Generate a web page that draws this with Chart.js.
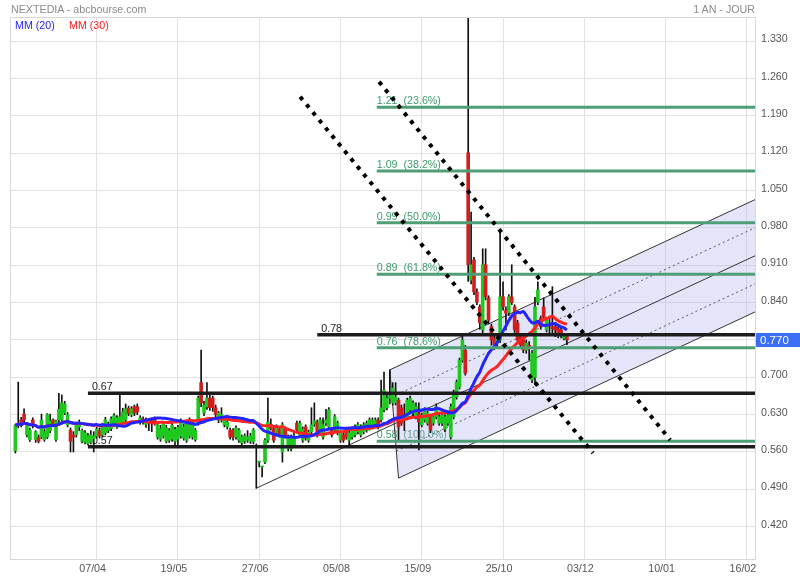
<!DOCTYPE html>
<html><head><meta charset="utf-8">
<script src="https://cdn.jsdelivr.net/npm/chart.js@4/dist/chart.umd.min.js"></script>
<style>
html,body{margin:0;padding:0;background:#fff;}
#wrap{position:relative;width:800px;height:580px;}
canvas{position:absolute;left:0;top:0;}
.t{position:absolute;font-family:"Liberation Sans",Arial,sans-serif;white-space:nowrap;line-height:12px;}
</style></head><body>
<div id="wrap">
<canvas id="c" width="800" height="580"></canvas>
<div class="t" style="left:11px;top:3px;font-size:10.7px;color:#8a8a8a">NEXTEDIA - abcbourse.com</div>
<div class="t" style="right:45px;top:3px;font-size:10.7px;color:#8a8a8a">1 AN - JOUR</div>
<div class="t" style="left:15px;top:19px;font-size:10.7px;color:#1f1fff">MM (20)</div>
<div class="t" style="left:69px;top:19px;font-size:10.7px;color:#ff1f1f">MM (30)</div>
</div>
<script>
// ---- data ----
const tickIndex = [28, 56, 84, 112, 140, 168, 196, 224, 252];
const tickLabels = ['07/04','19/05','27/06','05/08','15/09','25/10','03/12','10/01','16/02'];
const priceTicks = [0.420,0.490,0.560,0.630,0.700,0.770,0.840,0.910,0.980,1.050,1.120,1.190,1.260,1.330];

const opens = [0.562,0.610,0.620,0.631,0.592,0.583,0.620,0.583,0.588,0.588,
0.583,0.588,0.600,0.620,0.583,0.620,0.620,0.633,0.611,0.601,
0.592,0.592,0.607,0.580,0.578,0.576,0.578,0.585,0.590,0.600,
0.592,0.596,0.600,0.604,0.612,0.607,0.612,0.615,0.620,0.642,
0.630,0.645,0.645,0.616,0.622,0.612,0.618,0.617,0.622,0.588,
0.584,0.590,0.580,0.582,0.584,0.580,0.584,0.590,0.586,0.582,
0.590,0.588,0.583,0.615,0.690,0.633,0.645,0.661,0.661,0.643,
0.620,0.620,0.611,0.607,0.601,0.601,0.588,0.582,0.577,0.580,
0.582,0.580,0.579,0.572,0.541,0.532,0.541,0.582,0.612,0.603,
0.596,0.603,0.560,0.603,0.566,0.566,0.572,0.614,0.592,0.582,
0.607,0.582,0.598,0.612,0.616,0.596,0.588,0.614,0.607,0.601,
0.601,0.596,0.582,0.592,0.598,0.582,0.588,0.592,0.598,0.592,
0.598,0.601,0.605,0.607,0.611,0.620,0.620,0.639,0.643,0.661,
0.652,0.652,0.657,0.643,0.620,0.626,0.639,0.633,0.626,0.633,
0.611,0.620,0.614,0.626,0.614,0.626,0.614,0.614,0.603,0.614,
0.588,0.626,0.663,0.682,0.732,0.751,1.121,0.882,0.920,0.860,
0.832,0.789,0.911,0.849,0.795,0.773,0.764,0.770,0.851,0.826,
0.821,0.851,0.832,0.802,0.776,0.770,0.751,0.760,0.695,0.700,
0.841,0.811,0.832,0.789,0.800,0.795,0.795,0.791,0.789,0.773,
0.776];
const highs = [0.612,0.691,0.625,0.641,0.615,0.605,0.624,0.600,0.592,0.631,
0.602,0.632,0.631,0.622,0.620,0.670,0.667,0.655,0.634,0.605,
0.598,0.614,0.620,0.603,0.600,0.595,0.600,0.598,0.607,0.605,
0.614,0.625,0.616,0.626,0.632,0.628,0.672,0.642,0.650,0.646,
0.645,0.648,0.650,0.628,0.626,0.624,0.620,0.620,0.626,0.614,
0.610,0.616,0.610,0.604,0.614,0.606,0.610,0.622,0.612,0.616,
0.624,0.620,0.604,0.665,0.751,0.655,0.690,0.672,0.665,0.648,
0.636,0.643,0.624,0.620,0.605,0.604,0.609,0.604,0.592,0.594,
0.600,0.595,0.604,0.575,0.541,0.532,0.585,0.661,0.622,0.607,
0.611,0.607,0.615,0.607,0.592,0.592,0.596,0.618,0.618,0.607,
0.611,0.601,0.643,0.652,0.620,0.624,0.624,0.640,0.643,0.606,
0.630,0.618,0.600,0.596,0.603,0.600,0.605,0.611,0.615,0.611,
0.615,0.618,0.624,0.624,0.624,0.624,0.695,0.710,0.672,0.714,
0.690,0.690,0.661,0.648,0.650,0.661,0.665,0.656,0.652,0.652,
0.633,0.643,0.637,0.630,0.630,0.650,0.630,0.633,0.630,0.633,
0.650,0.676,0.695,0.736,0.779,0.760,1.400,1.010,0.925,0.866,
0.836,0.941,0.941,0.853,0.800,0.780,0.780,0.973,0.879,0.832,
0.855,0.911,0.836,0.807,0.780,0.776,0.770,0.767,0.750,0.850,
0.879,0.815,0.849,0.811,0.815,0.870,0.800,0.796,0.793,0.782,
0.776];
const lows = [0.558,0.605,0.607,0.615,0.588,0.580,0.605,0.578,0.577,0.585,
0.580,0.585,0.596,0.607,0.580,0.615,0.616,0.630,0.607,0.560,
0.560,0.588,0.600,0.577,0.575,0.573,0.575,0.560,0.586,0.586,
0.588,0.592,0.596,0.600,0.608,0.604,0.608,0.612,0.616,0.628,
0.626,0.628,0.630,0.612,0.612,0.606,0.600,0.598,0.610,0.584,
0.580,0.586,0.577,0.578,0.580,0.572,0.570,0.586,0.582,0.578,
0.586,0.584,0.580,0.610,0.645,0.628,0.640,0.638,0.636,0.626,
0.615,0.616,0.607,0.603,0.584,0.582,0.584,0.578,0.573,0.576,
0.578,0.576,0.575,0.492,0.532,0.513,0.538,0.578,0.601,0.578,
0.592,0.588,0.541,0.586,0.562,0.562,0.568,0.597,0.588,0.578,
0.582,0.578,0.594,0.608,0.588,0.592,0.584,0.610,0.603,0.588,
0.597,0.592,0.578,0.578,0.584,0.572,0.584,0.588,0.594,0.588,
0.594,0.597,0.601,0.603,0.607,0.603,0.616,0.635,0.639,0.650,
0.648,0.648,0.579,0.610,0.600,0.622,0.635,0.628,0.622,0.564,
0.607,0.616,0.610,0.596,0.610,0.622,0.610,0.610,0.598,0.610,
0.584,0.622,0.659,0.678,0.728,0.704,0.880,0.875,0.855,0.836,
0.790,0.780,0.845,0.800,0.760,0.752,0.755,0.765,0.826,0.789,
0.816,0.836,0.784,0.765,0.755,0.746,0.745,0.732,0.690,0.689,
0.836,0.790,0.807,0.785,0.780,0.780,0.776,0.774,0.774,0.770,
0.761];
const closes = [0.610,0.614,0.611,0.620,0.611,0.601,0.611,0.598,0.580,0.620,
0.598,0.630,0.618,0.611,0.618,0.640,0.652,0.650,0.630,0.580,
0.588,0.611,0.616,0.600,0.596,0.590,0.592,0.590,0.603,0.590,
0.610,0.620,0.612,0.622,0.628,0.624,0.626,0.635,0.641,0.632,
0.641,0.633,0.635,0.624,0.616,0.620,0.617,0.616,0.614,0.611,
0.604,0.612,0.605,0.600,0.610,0.602,0.606,0.618,0.607,0.612,
0.620,0.616,0.600,0.661,0.652,0.648,0.661,0.643,0.643,0.630,
0.633,0.630,0.620,0.616,0.588,0.588,0.605,0.601,0.588,0.590,
0.588,0.590,0.601,0.568,0.541,0.532,0.582,0.616,0.604,0.582,
0.607,0.592,0.611,0.590,0.588,0.588,0.590,0.601,0.614,0.603,
0.586,0.597,0.611,0.618,0.592,0.620,0.611,0.620,0.639,0.592,
0.626,0.614,0.596,0.582,0.588,0.596,0.601,0.607,0.611,0.607,
0.611,0.614,0.620,0.620,0.620,0.607,0.643,0.676,0.661,0.665,
0.680,0.663,0.607,0.614,0.624,0.657,0.661,0.652,0.645,0.616,
0.629,0.639,0.633,0.601,0.626,0.645,0.626,0.629,0.626,0.629,
0.645,0.671,0.691,0.732,0.770,0.708,0.911,0.911,0.860,0.841,
0.802,0.911,0.851,0.807,0.770,0.761,0.776,0.851,0.832,0.820,
0.851,0.840,0.789,0.770,0.761,0.751,0.764,0.757,0.745,0.832,
0.864,0.795,0.813,0.807,0.796,0.791,0.789,0.780,0.780,0.779,
0.770];

// horizontal support / resistance levels and where they start (bar index)
const levelValues = [0.78, 0.67, 0.57];
const levelStarts = [104, 25, 25];
// Fibonacci retracement
const fibHigh = 1.40, fibLow = 0.58;
const fibRatios = [0.236, 0.382, 0.5, 0.618, 0.786, 1.0];
const fibStart = 124.5;
// Andrews pitchfork anchors (bar index, price)
const pitchA = {x: 83, y: 0.492};
const pitchB = {x: 129, y: 0.714};
const pitchC = {x: 132, y: 0.511};
// dotted trend lines
const trendLine1 = [{x: 98.1, y: 1.226}, {x: 199.0, y: 0.558}];
const trendLine2 = [{x: 125.3, y: 1.254}, {x: 225.6, y: 0.5825}];
const lastPrice = 0.770;

// ---- build ----
const XMIN = -1.5, XMAX = 254.8;
function sma(arr, n){
  return arr.map((_, i) => { const s = Math.max(0, i - n + 1); let t = 0; for (let k = s; k <= i; k++) t += arr[k]; return t / (i - s + 1); });
}
const ma20 = sma(closes, 20).map((v, i) => ({x: i, y: v}));
const ma30 = sma(closes, 30).map((v, i) => ({x: i, y: v}));
const wickData = highs.map((h, i) => ({x: i, y: [lows[i], h]}));
const bodyData = opens.map((o, i) => ({x: i, y: [Math.min(o, closes[i]), Math.max(o, closes[i])]}));
const bodyColors = opens.map((o, i) => closes[i] >= o ? '#1ec81e' : '#d21e1e');

const M = {x: (pitchB.x + pitchC.x) / 2, y: (pitchB.y + pitchC.y) / 2};
const slope = (M.y - pitchA.y) / (M.x - pitchA.x);
const ext = p => ({x: XMAX, y: p.y + slope * (XMAX - p.x)});
const q1 = {x: pitchB.x + (pitchC.x - pitchB.x) * 0.25, y: pitchB.y + (pitchC.y - pitchB.y) * 0.25};
const q3 = {x: pitchB.x + (pitchC.x - pitchB.x) * 0.75, y: pitchB.y + (pitchC.y - pitchB.y) * 0.75};

const ds = [];
const line = (data, color, width, order, extra) => Object.assign({type: 'line', data, borderColor: color, borderWidth: width, pointRadius: 0, fill: false, tension: 0, order}, extra || {});

ds.push(line(trendLine1, '#000', 4, 0, {borderDash: [4, 6]}));
ds.push(line(trendLine2, '#000', 4, 0, {borderDash: [4, 6]}));
fibRatios.forEach(r => { const v = fibHigh - r * (fibHigh - fibLow); ds.push(line([{x: fibStart, y: v}, {x: XMAX, y: v}], '#4e9e76', 3, 1)); });
levelValues.forEach((v, i) => ds.push(line([{x: levelStarts[i], y: v}, {x: XMAX, y: v}], '#1c1c1c', 3.5, 2)));
ds.push(line(ma20, '#2424ff', 3, 3, {tension: 0.3}));
ds.push(line(ma30, '#ff2424', 3, 3.5, {tension: 0.3}));
ds.push({type: 'bar', data: bodyData, backgroundColor: bodyColors, borderWidth: 0, barThickness: 3, minBarLength: 1, grouped: false, order: 4});
ds.push({type: 'bar', data: wickData, backgroundColor: '#111', borderWidth: 0, barThickness: 1, minBarLength: 1, grouped: false, order: 5});
ds.push(line([pitchA, ext(pitchA)], '#333', 1, 6));
ds.push(line([pitchB, ext(pitchB)], '#333', 1, 6));
ds.push(line([pitchC, ext(pitchC)], '#333', 1, 6));
ds.push(line([pitchB, pitchC], '#333', 1, 6));
ds.push(line([q1, ext(q1)], '#555', 1, 6, {borderDash: [2, 3]}));
ds.push(line([q3, ext(q3)], '#555', 1, 6, {borderDash: [2, 3]}));
ds.push(line([pitchB, pitchC, ext(pitchC), ext(pitchB)], 'rgba(0,0,0,0)', 0, 7, {fill: 'shape', backgroundColor: 'rgba(175,175,240,0.32)'}));

const FONT = '"Liberation Sans", Arial, sans-serif';
const overlay = {
  id: 'overlay',
  beforeDraw(chart){
    const {ctx, chartArea: a} = chart;
    ctx.save(); ctx.strokeStyle = '#d8d8d8'; ctx.lineWidth = 1;
    ctx.strokeRect(Math.round(a.left) - 0.5, Math.round(a.top) - 0.5, Math.round(a.right - a.left) + 1, Math.round(a.bottom - a.top) + 1);
    ctx.restore();
  },
  beforeDatasetsDraw(chart){
    const {ctx, scales: {x, y}} = chart;
    ctx.save();
    ctx.font = '10.7px ' + FONT; ctx.textBaseline = 'alphabetic'; ctx.textAlign = 'left';
    ctx.fillStyle = '#222';
    levelValues.forEach((v, i) => ctx.fillText(v.toFixed(2), x.getPixelForValue(levelStarts[i]) + 4, y.getPixelForValue(v) - 3));
    ctx.fillStyle = '#3f9a6c';
    fibRatios.forEach(r => { const v = fibHigh - r * (fibHigh - fibLow); ctx.fillText(v.toFixed(2) + '  (' + (r * 100).toFixed(1) + '%)', x.getPixelForValue(fibStart), y.getPixelForValue(v) - 3); });
    ctx.restore();
  },
  afterDraw(chart){
    const {ctx, chartArea: a, scales: {y}} = chart;
    const py = Math.round(y.getPixelForValue(lastPrice));
    ctx.save();
    ctx.fillStyle = '#3a6ff5'; ctx.fillRect(a.right + 1, py - 7, 800 - a.right - 1, 14);
    ctx.fillStyle = '#fff'; ctx.font = '11.5px ' + FONT; ctx.textBaseline = 'middle'; ctx.textAlign = 'left';
    ctx.fillText(lastPrice.toFixed(3), a.right + 5, py + 0.5);
    ctx.restore();
  }
};

new Chart(document.getElementById('c'), {
  type: 'bar',
  data: {datasets: ds},
  options: {
    responsive: false, animation: false, events: [],
    layout: {padding: {left: 11, top: 18, right: 0, bottom: 0}},
    plugins: {legend: {display: false}, tooltip: {enabled: false}},
    scales: {
      x: {
        type: 'linear', min: XMIN, max: XMAX, offset: false,
        grid: {color: '#e2e2e2', drawTicks: false, offset: false},
        border: {display: true, color: '#d8d8d8'},
        afterBuildTicks: s => { s.ticks = tickIndex.map(v => ({value: v})); },
        afterFit: s => { s.height = 21; },
        ticks: {autoSkip: false, maxRotation: 0, padding: 4, labelOffset: -4, color: '#555', font: {family: FONT, size: 10.7},
          callback: v => { const k = tickIndex.indexOf(v); return k >= 0 ? tickLabels[k] : ''; }}
      },
      y: {
        type: 'linear', position: 'right', min: 0.3593, max: 1.3737,
        grid: {color: '#e2e2e2', drawTicks: false},
        border: {display: true, color: '#d8d8d8'},
        afterBuildTicks: s => { s.ticks = priceTicks.map(v => ({value: v})); },
        afterFit: s => { s.width = 45; },
        ticks: {autoSkip: false, padding: 6, labelOffset: -2, color: '#555', font: {family: FONT, size: 10.7},
          callback: v => Number(v).toFixed(3)}
      }
    }
  },
  plugins: [overlay]
});
</script>
</body></html>
